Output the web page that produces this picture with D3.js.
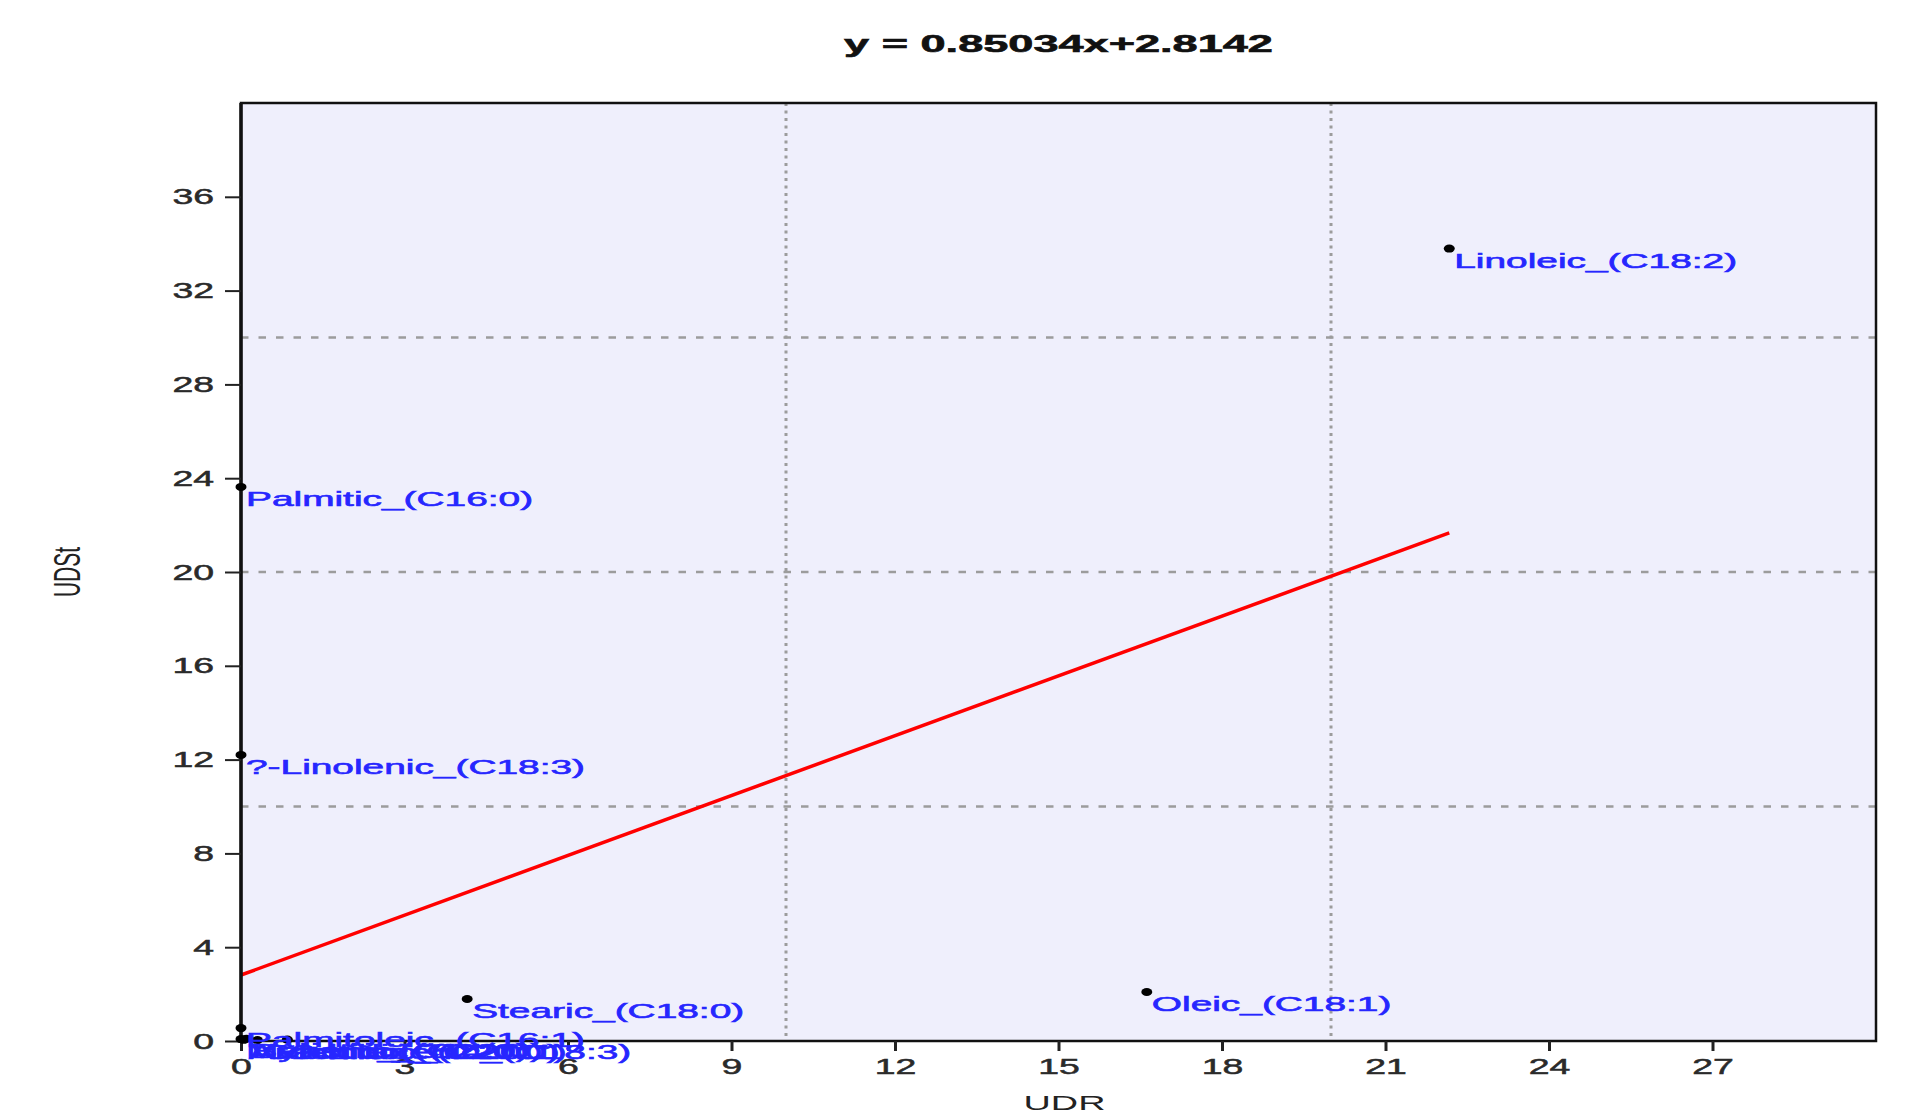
<!DOCTYPE html>
<html>
<head>
<meta charset="utf-8">
<script src="https://cdn.jsdelivr.net/npm/d3@7"></script>
<style>
  body { margin: 0; background: #fff; }
  svg { display: block; font-family: "Liberation Sans", Arial, sans-serif; }
</style>
</head>
<body>
<svg width="1907" height="1112"></svg>
<script>
// data
const acids = ["Linoleic_(C18:2)", "Palmitic_(C16:0)", "?-Linolenic_(C18:3)", "Stearic_(C18:0)",
               "Oleic_(C18:1)", "Palmitoleic_(C16:1)", "Myristic_(C14:0)", "Arachidic_(C20:0)",
               "Behenic_(C22:0)", "Gadoleic_(C20:1)", "?-Linolenic_(C18:3)"];
const udr  = [22.17, 0, 0, 4.15, 16.62, 0, 0, 0.05, 0.1, 0.3, 0.85];
const udst = [33.79, 23.63, 12.2, 1.79, 2.09, 0.55, 0.08, 0.05, 0.1, 0.04, 0.06];

const xTicks = [0, 3, 6, 9, 12, 15, 18, 21, 24, 27];
const yTicks = [0, 4, 8, 12, 16, 20, 24, 28, 32, 36];
const xGrid = [10, 20];
const yGrid = [10, 20, 30];

// fitted line from the title
const slope = 0.85034, intercept = 2.8142;

const svg = d3.select("svg");
const mLeft = 241, mRight = 1876, mTop = 103, mBottom = 1041;

const x = d3.scaleLinear().domain([0, 30]).range([mLeft, mRight]);
const y = d3.scaleLinear().domain([0, 40]).range([mBottom, mTop]);

// the whole picture looks stretched sideways, so the text is too
const stretched = (sel, sx) => sel.attr("transform", (d, i, n) => {
  const old = d3.select(n[i]).attr("transform") || "";
  return old + ` scale(${sx},1)`;
});

// plot background
svg.append("rect")
  .attr("x", mLeft).attr("y", mTop)
  .attr("width", mRight - mLeft).attr("height", mBottom - mTop)
  .attr("fill", "#efeffc");

// grid lines
svg.selectAll(".hgrid").data(yGrid).enter().append("line")
  .attr("x1", mLeft).attr("x2", mRight)
  .attr("y1", d => y(d)).attr("y2", d => y(d))
  .attr("stroke", "#9c9c9c").attr("stroke-width", 2.5)
  .attr("stroke-dasharray", "7.5,10");

svg.selectAll(".vgrid").data(xGrid).enter().append("line")
  .attr("y1", mTop).attr("y2", mBottom)
  .attr("x1", d => x(d)).attr("x2", d => x(d))
  .attr("stroke", "#9c9c9c").attr("stroke-width", 3)
  .attr("stroke-dasharray", "3,4.5");

// regression line over the data range
const xr = d3.extent(udr);
svg.append("line")
  .attr("x1", x(xr[0])).attr("y1", y(slope * xr[0] + intercept))
  .attr("x2", x(xr[1])).attr("y2", y(slope * xr[1] + intercept))
  .attr("stroke", "#ff0000").attr("stroke-width", 3.5);

// frame
svg.append("rect")
  .attr("x", mLeft).attr("y", mTop)
  .attr("width", mRight - mLeft).attr("height", mBottom - mTop)
  .attr("fill", "none").attr("stroke", "#111").attr("stroke-width", 2.5);
svg.append("line")
  .attr("x1", mLeft).attr("x2", mLeft).attr("y1", mTop).attr("y2", mBottom)
  .attr("stroke", "#111").attr("stroke-width", 3.5);

// axes
const yAxis = svg.append("g")
  .attr("transform", `translate(${mLeft},0)`)
  .call(d3.axisLeft(y).tickValues(yTicks).tickSize(16).tickSizeOuter(0).tickPadding(11));
yAxis.select(".domain").remove();
yAxis.selectAll("line").attr("stroke", "#222").attr("stroke-width", 2);
yAxis.selectAll("text")
  .attr("x", -27 / 1.7)
  .attr("font-size", 22).attr("fill", "#2a2a2a")
  .attr("stroke", "#2a2a2a").attr("stroke-width", 0.5)
  .attr("font-family", "Liberation Sans, Arial, sans-serif")
  .call(stretched, 1.7);

const xAxis = svg.append("g")
  .attr("transform", `translate(0,${mBottom})`)
  .call(d3.axisBottom(x).tickValues(xTicks).tickSize(10).tickSizeOuter(0).tickPadding(7));
xAxis.select(".domain").remove();
xAxis.selectAll("line").attr("stroke", "#222").attr("stroke-width", 3);
xAxis.selectAll("text")
  .attr("font-size", 22).attr("fill", "#2a2a2a")
  .attr("stroke", "#2a2a2a").attr("stroke-width", 0.5)
  .attr("font-family", "Liberation Sans, Arial, sans-serif")
  .call(stretched, 1.7);

// points
const pts = acids.map((name, i) => ({ name: name, x: udr[i], y: udst[i] }));

svg.selectAll(".dot").data(pts).enter().append("ellipse")
  .attr("cx", d => x(d.x)).attr("cy", d => y(d.y))
  .attr("rx", 5.5).attr("ry", 4)
  .attr("fill", "#000");

svg.selectAll(".lab").data(pts).enter().append("text")
  .attr("transform", d => `translate(${x(d.x) + 5},${y(d.y) + 19})`)
  .attr("font-size", 21)
  .attr("fill", "#2626ff")
  .attr("stroke", "#2626ff").attr("stroke-width", 0.6)
  .text(d => d.name)
  .call(stretched, 1.85);

// title and axis titles
svg.append("text")
  .attr("transform", `translate(${(mLeft + mRight) / 2},52)`)
  .attr("text-anchor", "middle")
  .attr("font-size", 24).attr("font-weight", "bold")
  .attr("fill", "#111").attr("stroke", "#111").attr("stroke-width", 0.6)
  .text(`y = ${slope}x+${intercept}`)
  .call(stretched, 1.88);

svg.append("text")
  .attr("transform", `translate(${(mLeft + mRight) / 2 + 6},1110)`)
  .attr("text-anchor", "middle")
  .attr("font-size", 21).attr("fill", "#222")
  .text("UDR")
  .call(stretched, 1.8);

svg.append("text")
  .attr("transform", `translate(80,${(mTop + mBottom) / 2}) scale(1.8,1) rotate(-90)`)
  .attr("text-anchor", "middle")
  .attr("font-size", 21).attr("fill", "#222")
  .text("UDSt");
</script>
</body>
</html>
